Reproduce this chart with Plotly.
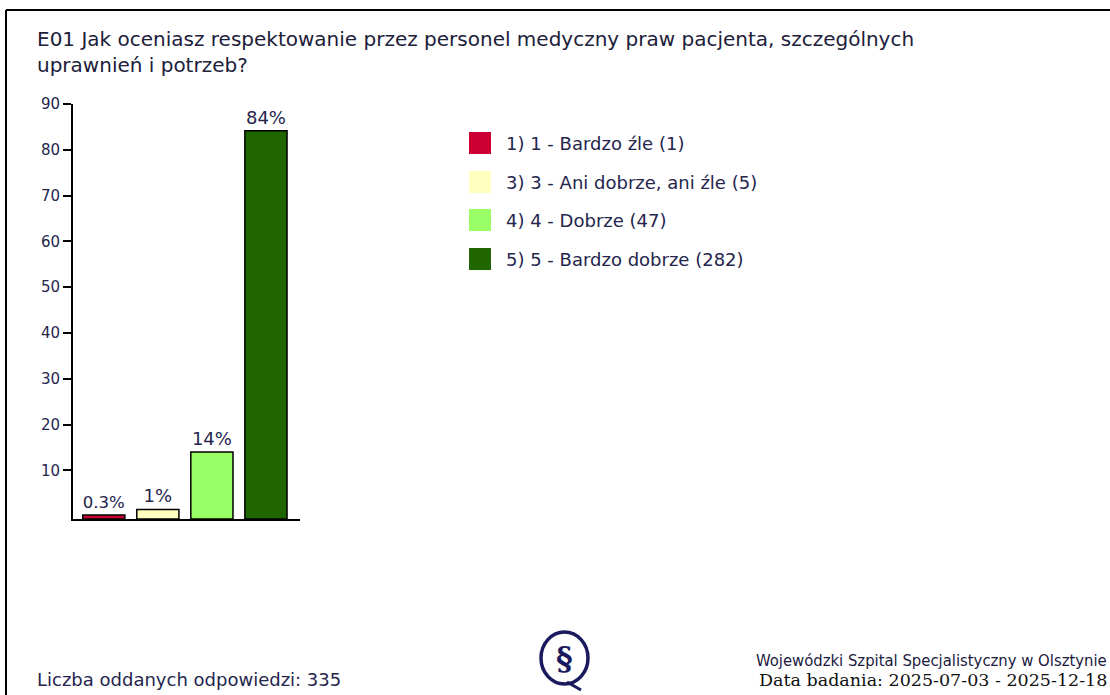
import plotly.graph_objects as go

# ---- data ----
categories = ["1) 1 - Bardzo źle", "3) 3 - Ani dobrze, ani źle", "4) 4 - Dobrze", "5) 5 - Bardzo dobrze"]
counts = [1, 5, 47, 282]
percent_values = [0.30, 1.49, 14.03, 84.18]
bar_labels = ["0.3%", "1%", "14%", "84%"]
colors = ["#CC0033", "#FFFFC0", "#99FF66", "#1F6600"]
y_tick_values = [10, 20, 30, 40, 50, 60, 70, 80, 90]
title_lines = ["E01 Jak oceniasz respektowanie przez personel medyczny praw pacjenta, szczególnych",
               "uprawnień i potrzeb?"]
total_text = "Liczba oddanych odpowiedzi: 335"
footer_line1 = "Wojewódzki Szpital Specjalistyczny w Olsztynie"
footer_line2 = "Data badania: 2025-07-03 - 2025-12-18"

W, H = 1110, 695
PL, PR, PT, PB = 73, 300, 104, 519  # plot area in pixels
AXIS_MIN = -0.6
FONT = "DejaVu Sans, Verdana, sans-serif"
TXT = "#25254d"


def px(x):
    return (x - PL) / (PR - PL)


def py(y):
    return (PB - y) / (PB - PT)


fig = go.Figure()
fig.add_trace(go.Bar(
    x=list(range(len(categories))),
    y=[v - AXIS_MIN for v in percent_values],
    base=AXIS_MIN,
    marker=dict(color=colors, line=dict(color="#000000", width=1.5)),
    width=0.78,
    text=bar_labels,
    textposition="outside",
    textfont=dict(family=FONT, size=18, color=TXT),
    cliponaxis=False,
    showlegend=False,
    hoverinfo="skip",
))

shapes = []
annotations = []

# border (top and left)
shapes.append(dict(type="line", xref="paper", yref="paper",
                   x0=px(6), x1=px(1200), y0=py(10), y1=py(10),
                   line=dict(color="#000000", width=2)))
shapes.append(dict(type="line", xref="paper", yref="paper",
                   x0=px(6), x1=px(6), y0=py(10), y1=py(760),
                   line=dict(color="#000000", width=2)))

# title (one annotation, two lines)
annotations.append(dict(text="<br>".join(title_lines), xref="paper", yref="paper",
                        x=px(35), y=py(52), xanchor="left", yanchor="middle", align="left",
                        showarrow=False, font=dict(family=FONT, size=20, color="#20203a")))

# legend
leg_y = [143, 182, 220, 259]
for i, (cat, cnt, col) in enumerate(zip(categories, counts, colors)):
    cy = leg_y[i]
    shapes.append(dict(type="rect", xref="paper", yref="paper",
                       x0=px(469), x1=px(491), y0=py(cy - 11), y1=py(cy + 11),
                       fillcolor=col, line=dict(width=0)))
    annotations.append(dict(text=f"{cat} ({cnt})", xref="paper", yref="paper",
                            x=px(504), y=py(cy), xanchor="left", yanchor="middle",
                            showarrow=False, font=dict(family=FONT, size=18, color=TXT)))

# footer
annotations.append(dict(text=total_text, xref="paper", yref="paper",
                        x=px(35), y=py(679), xanchor="left", yanchor="middle",
                        showarrow=False, font=dict(family=FONT, size=18, color=TXT)))
annotations.append(dict(text=footer_line1, xref="paper", yref="paper",
                        x=px(1109), y=py(660), xanchor="right", yanchor="middle",
                        showarrow=False,
                        font=dict(family="DejaVu Sans Condensed, Liberation Sans Narrow, sans-serif",
                                  size=16.5, color="#1a1a40")))
annotations.append(dict(text=footer_line2, xref="paper", yref="paper",
                        x=px(1109), y=py(680), xanchor="right", yanchor="middle",
                        showarrow=False,
                        font=dict(family="DejaVu Serif, serif", size=17.5, color="#111111")))

# logo
shapes.append(dict(type="circle", xref="paper", yref="paper",
                   x0=px(541), x1=px(588), y0=py(632), y1=py(684),
                   line=dict(color="#1a1a5e", width=3.5)))
annotations.append(dict(text="<b>§</b>", xref="paper", yref="paper",
                        x=px(564.5), y=py(658), xanchor="center", yanchor="middle",
                        showarrow=False, font=dict(family="DejaVu Serif, serif", size=32, color="#1a1a5e")))
shapes.append(dict(type="line", xref="paper", yref="paper",
                   x0=px(567), x1=px(581), y0=py(682), y1=py(690),
                   line=dict(color="#1a1a5e", width=3)))

fig.update_layout(
    width=W, height=H,
    margin=dict(l=PL, r=W - PR, t=PT, b=H - PB, pad=0),
    paper_bgcolor="#ffffff", plot_bgcolor="#ffffff",
    shapes=shapes, annotations=annotations,
    xaxis=dict(range=[-0.57, 3.63], showticklabels=False, ticks="", showgrid=False,
               zeroline=False, showline=True, linecolor="#000000", linewidth=2, fixedrange=True),
    yaxis=dict(range=[AXIS_MIN, 90], tickvals=y_tick_values, ticks="outside", ticklen=8,
               tickwidth=1.5, tickcolor="#000000", showgrid=False, zeroline=False,
               showline=True, linecolor="#000000", linewidth=2,
               tickfont=dict(family=FONT, size=15, color=TXT), fixedrange=True),
)

fig.write_html("out.html", config={"displayModeBar": False},
               post_script="document.body.style.margin='0';document.body.style.overflow='hidden';")
